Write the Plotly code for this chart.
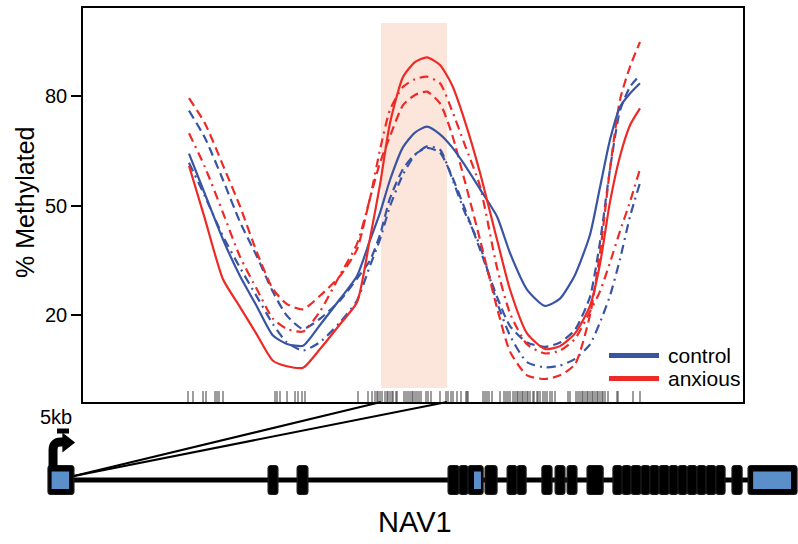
import plotly.graph_objects as go

W, H = 798, 544
FONT = "Liberation Sans, Arial, sans-serif"

# ---------------- main panel data ----------------
positions = [106, 122, 140, 157, 174, 190, 204, 220, 237, 257, 274, 287, 297, 307, 320, 332,
             344, 357, 369, 382, 397, 414, 427, 444, 462, 477, 492, 507, 517, 527, 537, 547, 557]

control_mean = [64.2, 53.1, 40.7, 30.7, 22.3, 14.4, 12.1, 11.6, 17.3, 24.4, 30.7, 40.5, 48, 57, 66, 70,
                71.6, 69.5, 66, 61, 54.5, 47, 37, 27, 22.5, 24.5, 31, 42, 55, 68, 77, 80.7, 83.5]
control_upper = [76, 68.5, 57, 45.5, 36, 26.3, 19.8, 16.2, 19, 24, 30, 35, 42, 52, 60, 64,
                 65.8, 64.5, 58, 49, 38, 25, 17, 12.5, 11.3, 12.5, 16, 25, 40, 60, 76, 82.5, 85.7]
control_lower = [61.7, 52.5, 41.6, 33, 25, 17.5, 12.5, 10.3, 12.6, 18, 24, 33.5, 40.7, 49.8, 58.5, 63.8,
                 66.2, 65.3, 57.5, 48, 39, 23.5, 14.4, 7.1, 5.7, 6.2, 8, 12, 18, 25.3, 35.3, 47, 56.2]

anxious_mean = [60.9, 46.3, 29.8, 22.2, 14.6, 7.5, 6.0, 5.6, 10.7, 17.5, 23.5, 41, 55.7, 72.6, 85.2, 89.3,
                90.6, 88.5, 83, 73, 59, 40.7, 27, 15, 10.7, 11.5, 15, 22.5, 34, 51, 63.5, 72, 76.6]
anxious_upper = [79.4, 72.5, 61, 49.8, 37.1, 27.1, 23, 21.6, 25.3, 30.7, 38, 52, 61.7, 69, 77.5, 80.3,
                 81.2, 78, 69.5, 56.5, 40.7, 22, 10, 3.5, 2.5, 3.5, 6.5, 20, 37, 60, 79, 88, 94.8]
anxious_lower = [69.8, 60.5, 48, 36, 27, 19, 16.2, 15.5, 21, 31, 39.5, 52, 65.3, 76.2, 82.5, 84.6,
                 85.3, 83.5, 76, 66.5, 55.3, 33, 20.5, 12, 9.5, 10.3, 13.5, 21, 26.5, 34.4, 43, 51, 60]

cpg_sites = [105, 110, 120, 123, 132, 134, 136, 140, 192, 194, 197, 204, 212, 215, 219, 222,
             275, 285, 289, 292, 294, 295, 297, 299, 302, 304, 305, 307, 309, 310, 313, 314,
             321, 323, 325, 327, 329, 330, 332, 334, 336, 338, 343, 345, 348, 357, 363, 365,
             368, 370, 374, 378, 383, 384, 385, 400, 402, 404, 406, 409, 417, 421, 423, 425,
             427, 430, 432, 434, 435, 437, 439, 440, 442, 444, 445, 447, 450, 451, 454, 455,
             457, 460, 462, 464, 467, 469, 472, 485, 487, 493, 495, 497, 499, 500, 502, 504,
             505, 507, 509, 510, 512, 514, 515, 517, 519, 520, 522, 525, 534, 535, 550, 557]

region_start, region_end = 298, 364
region_low, region_high = 0, 100
y_ticks = [20, 50, 80]
x_range = [0, 660]
y_range = [-3.8, 104.1]

# ---------------- gene model data (kb from TSS) ----------------
exon_starts = [0.0, 91.7, 103.8, 166.7, 171.3, 175.0, 182.1, 191.3, 195.4, 205.8, 211.3, 216.3,
               224.6, 235.4, 239.2, 242.9, 247.1, 250.8, 254.6, 258.8, 262.5, 266.3, 270.4,
               274.2, 278.3, 285.0, 291.7]
exon_ends = [10.8, 95.8, 108.3, 171.3, 175.0, 181.3, 187.1, 195.4, 199.2, 210.0, 215.4, 220.4,
             231.3, 239.2, 242.9, 247.1, 250.8, 254.6, 258.8, 262.5, 266.3, 270.4, 274.2,
             278.3, 282.1, 289.2, 312.1]
utr_starts = [1.5, 177.5, 293.8]
utr_ends = [8.8, 180.4, 309.6]
scale_bar_kb = 5
gene_label_kb = 153

BLUE = "#3a54a4"
RED = "#ee2a26"
SHADE = "#fce5da"
UTR_BLUE = "#5b8fc9"

fig = go.Figure()

# main domains
xdom = [83 / W, 743 / W]
ydom = [1 - 402 / H, 1 - 8 / H]
x2_range = [-20, 312.5]
y2_range = [-64, 78]
y2dom = [0, 1 - 402 / H]


def main_to_paper(x, y):
    px = xdom[0] + (x - x_range[0]) / (x_range[1] - x_range[0]) * (xdom[1] - xdom[0])
    py = ydom[0] + (y - y_range[0]) / (y_range[1] - y_range[0]) * (ydom[1] - ydom[0])
    return px, py


def gene_to_paper(x, y):
    px = (x - x2_range[0]) / (x2_range[1] - x2_range[0])
    py = y2dom[0] + (y - y2_range[0]) / (y2_range[1] - y2_range[0]) * (y2dom[1] - y2dom[0])
    return px, py


series = [
    (control_upper, BLUE, "9px,5px"),
    (control_lower, BLUE, "9px,5px,2px,5px"),
    (anxious_upper, RED, "9px,5px"),
    (anxious_lower, RED, "9px,5px,2px,5px"),
    (control_mean, BLUE, "solid"),
    (anxious_mean, RED, "solid"),
]
for vals, col, dash in series:
    fig.add_trace(go.Scatter(x=positions, y=vals, mode="lines",
                             line=dict(color=col, width=2.2, dash=dash, shape="spline", smoothing=0.6),
                             showlegend=False, hoverinfo="skip", xaxis="x", yaxis="y"))

# rug of CpG sites
rx, ry = [], []
for p in cpg_sites:
    rx += [p, p, None]
    ry += [y_range[0], -0.8, None]
fig.add_trace(go.Scatter(x=rx, y=ry, mode="lines", line=dict(color="#3c3c3c", width=1),
                         showlegend=False, hoverinfo="skip", xaxis="x", yaxis="y"))

shapes = []
shapes.append(dict(type="rect", xref="x", yref="y", x0=region_start, x1=region_end,
                   y0=region_low, y1=region_high, fillcolor=SHADE, line=dict(width=0), layer="below"))

# gene body line
shapes.append(dict(type="line", xref="x2", yref="y2", x0=exon_ends[0], x1=exon_starts[-1], y0=0, y1=0,
                   line=dict(color="black", width=5)))


def rounded(x0, x1, y0, y1, r):
    rxk = r / 2.4
    ryk = r
    return (f"M {x0 + rxk},{y0} L {x1 - rxk},{y0} Q {x1},{y0} {x1},{y0 + ryk} "
            f"L {x1},{y1 - ryk} Q {x1},{y1} {x1 - rxk},{y1} L {x0 + rxk},{y1} "
            f"Q {x0},{y1} {x0},{y1 - ryk} L {x0},{y0 + ryk} Q {x0},{y0} {x0 + rxk},{y0} Z")


for s, e in zip(exon_starts, exon_ends):
    shapes.append(dict(type="path", xref="x2", yref="y2", path=rounded(s, e, -14.5, 14.5, 3),
                       fillcolor="black", line=dict(color="#1a1a1a", width=1.2)))
for s, e in zip(utr_starts, utr_ends):
    shapes.append(dict(type="rect", xref="x2", yref="y2", x0=s, x1=e, y0=-9, y1=8.5,
                       fillcolor=UTR_BLUE, line=dict(width=0)))

# TSS arrow
tss = exon_starts[0]
stem_x = tss + 2.1
shapes.append(dict(type="path", xref="x2", yref="y2",
                   path=f"M {stem_x},13 L {stem_x},30 Q {stem_x},38 {stem_x + 3.2},38 L {tss + 6.5},38",
                   line=dict(color="black", width=9)))
shapes.append(dict(type="path", xref="x2", yref="y2",
                   path=f"M {tss + 6.3},46 L {tss + 10.8},37.5 L {tss + 6.3},29 Z",
                   fillcolor="black", line=dict(color="black", width=1.5)))
# scale bar
shapes.append(dict(type="rect", xref="x2", yref="y2", x0=tss + 3.75, x1=tss + 3.75 + scale_bar_kb,
                   y0=46.5, y1=51.5, fillcolor="black", line=dict(width=0)))

# zoom connector lines
sx, sy = gene_to_paper(exon_ends[0], 4)
for edge in (region_start, region_end):
    ex, ey = main_to_paper(edge, y_range[0])
    shapes.append(dict(type="line", xref="paper", yref="paper", x0=sx, y0=sy, x1=ex, y1=ey,
                       line=dict(color="black", width=2)))

# legend (manual)
legend_items = [("control", BLUE, 355.5), ("anxious", RED, 378.5)]
annotations = []
for name, col, ypx in legend_items:
    yp = 1 - ypx / H
    shapes.append(dict(type="line", xref="paper", yref="paper", x0=609 / W, x1=659 / W, y0=yp, y1=yp,
                       line=dict(color=col, width=5)))
    annotations.append(dict(text=name, xref="paper", yref="paper", x=666 / W, y=yp, xanchor="left",
                            yanchor="middle", showarrow=False, font=dict(family=FONT, size=21, color="black")))

annotations.append(dict(text="% Methylated", xref="paper", yref="paper", x=25 / W, y=1 - 203 / H,
                        textangle=-90, showarrow=False, xanchor="center", yanchor="middle",
                        font=dict(family=FONT, size=25, color="black")))
annotations.append(dict(text="NAV1", xref="x2", yref="y2", x=gene_label_kb,
                        y=-42, showarrow=False, xanchor="center", yanchor="middle",
                        font=dict(family=FONT, size=29, color="black")))
annotations.append(dict(text="5kb", xref="x2", yref="y2", x=tss + 3.3, y=63, showarrow=False,
                        xanchor="center", yanchor="middle", font=dict(family=FONT, size=20, color="black")))

fig.update_layout(
    width=W, height=H, margin=dict(l=0, r=0, t=0, b=0),
    paper_bgcolor="white", plot_bgcolor="white",
    shapes=shapes, annotations=annotations, showlegend=False,
    xaxis=dict(domain=xdom, range=x_range, showgrid=False, zeroline=False, showticklabels=False,
               ticks="", showline=True, mirror=True, linecolor="black", linewidth=1.6, anchor="y"),
    yaxis=dict(domain=ydom, range=y_range, showgrid=False, zeroline=False, tickvals=y_ticks,
               ticks="outside", ticklen=10, tickwidth=1.5, tickcolor="black",
               showline=True, mirror=True, linecolor="black", linewidth=1.6, anchor="x",
               tickfont=dict(family=FONT, size=20, color="black")),
    xaxis2=dict(domain=[0, 1], range=x2_range, visible=False, anchor="y2"),
    yaxis2=dict(domain=y2dom, range=y2_range, visible=False, anchor="x2"),
)

fig.write_html("out.html", config={"displayModeBar": False},
               post_script="document.body.style.margin='0';document.body.style.overflow='hidden';")
